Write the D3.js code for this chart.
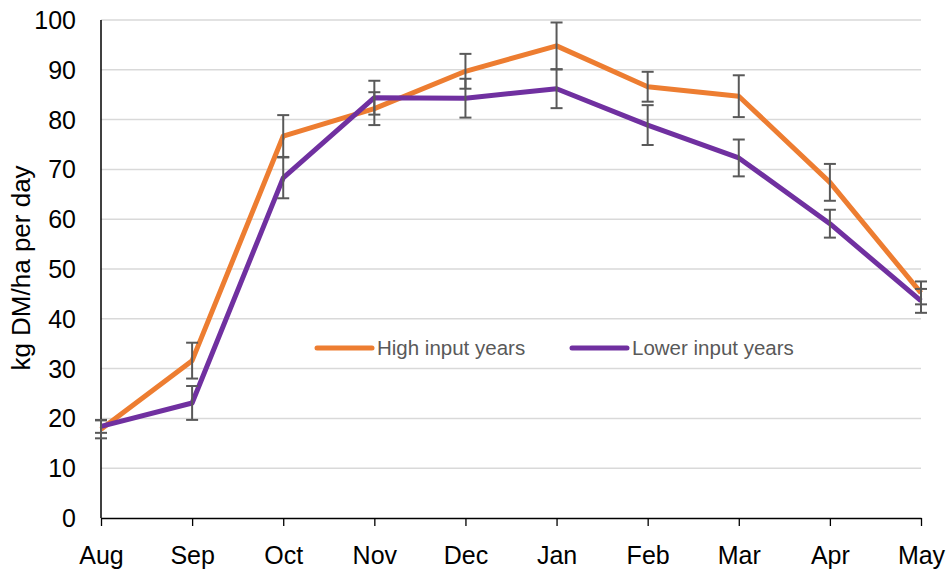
<!DOCTYPE html>
<html><head><meta charset="utf-8">
<script src="https://cdn.jsdelivr.net/npm/d3@7"></script>
<style>body{margin:0;background:#fff}svg{display:block}</style>
</head><body>
<script>
const months = ["Aug","Sep","Oct","Nov","Dec","Jan","Feb","Mar","Apr","May"];
const highInput = [17.8, 31.6, 76.7, 82.2, 89.7, 94.8, 86.6, 84.7, 67.4, 45.2];
const highErr   = [1.8, 3.6, 4.2, 3.3, 3.5, 4.7, 3.0, 4.2, 3.7, 2.3];
const lowerInput = [18.4, 23.1, 68.3, 84.4, 84.3, 86.2, 78.9, 72.3, 59.1, 43.6];
const lowerErr   = [1.3, 3.4, 4.1, 3.4, 3.9, 3.9, 4.0, 3.7, 2.8, 2.4];
const yTicks = [0,10,20,30,40,50,60,70,80,90,100];
const seriesNames = ["High input years","Lower input years"];
const colors = ["#ED7D31","#7030A0"];

const W=951,H=575;
const svg=d3.select("body").append("svg").attr("width",W).attr("height",H);
const font="Liberation Sans, Arial, sans-serif";
const x=d3.scalePoint().domain(months).range([101,921]);
const y=d3.scaleLinear().domain([0,100]).range([518,20]);

// gridlines
svg.append("g").selectAll("line").data(yTicks.filter(d=>d>0)).join("line")
  .attr("x1",101).attr("x2",921).attr("y1",d=>y(d)).attr("y2",d=>y(d))
  .attr("stroke","#d9d9d9").attr("stroke-width",1.5);

// y tick labels
svg.append("g").selectAll("text").data(yTicks).join("text")
  .attr("x",76).attr("y",d=>y(d)).attr("dy","0.36em").attr("text-anchor","end")
  .attr("font-family",font).attr("font-size",25).attr("fill","#000").text(d=>d);

// y axis line
svg.append("line").attr("x1",101).attr("x2",101).attr("y1",20).attr("y2",518)
  .attr("stroke","#000").attr("stroke-width",1.5);

// x axis
const xAxis=d3.axisBottom(x).tickSizeInner(8).tickSizeOuter(0).tickPadding(20);
const gx=svg.append("g").attr("transform","translate(0,518)").call(xAxis);
gx.select(".domain").attr("stroke","#000").attr("stroke-width",1.5);
gx.selectAll(".tick line").attr("stroke","#000").attr("stroke-width",1.3);
gx.selectAll(".tick text").attr("font-family",font).attr("font-size",25).attr("fill","#000");

// y axis title
svg.append("text").attr("transform","translate(30,268) rotate(-90)")
  .attr("text-anchor","middle").attr("font-family",font).attr("font-size",26)
  .attr("fill","#000").text("kg DM/ha per day");

const series=[highInput,lowerInput];
const errs=[highErr,lowerErr];
const line=d3.line().x((d,i)=>x(months[i])).y(d=>y(d));
series.forEach((s,k)=>{
  svg.append("path").datum(s).attr("d",line).attr("fill","none")
    .attr("stroke",colors[k]).attr("stroke-width",5).attr("stroke-linejoin","round");
});
series.forEach((s,k)=>{
  const g=svg.append("g").attr("stroke","#595959").attr("stroke-width",2);
  s.forEach((v,i)=>{
    const cx=x(months[i]), e=errs[k][i];
    g.append("line").attr("x1",cx).attr("x2",cx).attr("y1",y(v+e)).attr("y2",y(v-e));
    [v+e,v-e].forEach(t=>g.append("line").attr("x1",cx-6).attr("x2",cx+6).attr("y1",y(t)).attr("y2",y(t)));
  });
});

// legend
const legX=[317,572];
seriesNames.forEach((n,k)=>{
  const g=svg.append("g");
  g.append("line").attr("x1",legX[k]).attr("x2",legX[k]+55).attr("y1",348).attr("y2",348)
    .attr("stroke",colors[k]).attr("stroke-width",5).attr("stroke-linecap","round");
  g.append("text").attr("x",legX[k]+60).attr("y",348).attr("dy","0.36em")
    .attr("font-family",font).attr("font-size",20.5).attr("fill","#595959").text(n);
});
</script>
</body></html>
